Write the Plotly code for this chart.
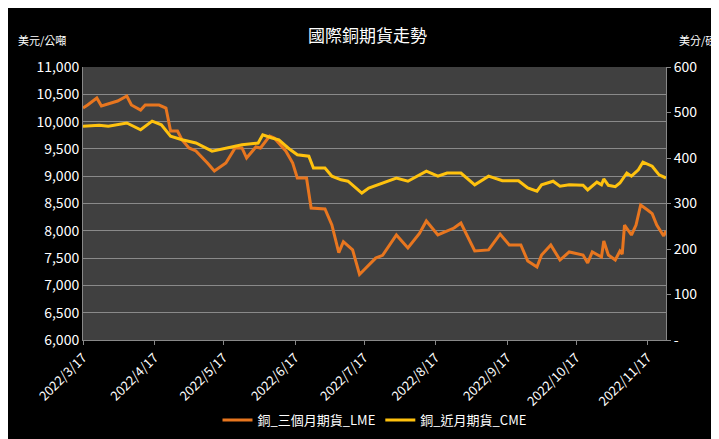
import plotly.graph_objects as go

lme_dates = ["2022-03-17","2022-03-19","2022-03-23","2022-03-25","2022-04-01","2022-04-05","2022-04-07","2022-04-11","2022-04-13","2022-04-19","2022-04-22","2022-04-23","2022-04-24","2022-04-27","2022-04-29","2022-05-02","2022-05-05","2022-05-10","2022-05-13","2022-05-18","2022-05-22","2022-05-25","2022-05-27","2022-05-31","2022-06-02","2022-06-06","2022-06-08","2022-06-13","2022-06-16","2022-06-18","2022-06-22","2022-06-24","2022-06-30","2022-07-03","2022-07-06","2022-07-08","2022-07-12","2022-07-15","2022-07-19","2022-07-22","2022-07-25","2022-07-31","2022-08-05","2022-08-10","2022-08-13","2022-08-18","2022-08-25","2022-08-28","2022-09-03","2022-09-09","2022-09-14","2022-09-18","2022-09-23","2022-09-26","2022-09-30","2022-10-02","2022-10-06","2022-10-10","2022-10-14","2022-10-20","2022-10-22","2022-10-24","2022-10-28","2022-10-29","2022-10-31","2022-11-03","2022-11-05","2022-11-06","2022-11-07","2022-11-10","2022-11-12","2022-11-14","2022-11-17","2022-11-19","2022-11-21","2022-11-24","2022-11-25"]
lme_values = [10249,10304,10432,10286,10377,10469,10304,10212,10304,10304,10249,10011,9828,9828,9663,9517,9462,9242,9095,9242,9517,9517,9333,9535,9517,9736,9700,9462,9242,8967,8967,8418,8400,8106,7600,7800,7650,7200,7374,7500,7550,7923,7685,7950,8180,7923,8051,8143,7630,7650,7940,7740,7740,7447,7337,7557,7740,7465,7612,7557,7410,7612,7520,7813,7557,7465,7630,7575,8106,7923,8106,8472,8380,8315,8106,7905,8000]

cme_dates = ["2022-03-17","2022-03-24","2022-03-28","2022-04-05","2022-04-11","2022-04-16","2022-04-20","2022-04-24","2022-04-29","2022-05-05","2022-05-12","2022-05-18","2022-05-25","2022-06-01","2022-06-03","2022-06-07","2022-06-10","2022-06-14","2022-06-18","2022-06-23","2022-06-25","2022-06-30","2022-07-03","2022-07-07","2022-07-10","2022-07-16","2022-07-19","2022-07-31","2022-08-05","2022-08-13","2022-08-18","2022-08-22","2022-08-28","2022-09-03","2022-09-09","2022-09-15","2022-09-22","2022-09-26","2022-09-30","2022-10-02","2022-10-07","2022-10-10","2022-10-14","2022-10-20","2022-10-22","2022-10-26","2022-10-28","2022-10-29","2022-10-31","2022-11-03","2022-11-05","2022-11-08","2022-11-10","2022-11-13","2022-11-15","2022-11-19","2022-11-22","2022-11-25"]
cme_values = [470,472,470,477,462,481,473,448,440,433,415,422,429,433,451,444,440,422,407,404,378,378,360,352,349,323,334,356,349,371,360,367,367,341,360,350,350,334,327,341,349,338,341,340,330,347,341,354,340,337,345,367,360,374,391,382,363,356]

tick_dates = ["2022-03-17","2022-04-17","2022-05-17","2022-06-17","2022-07-17","2022-08-17","2022-09-17","2022-10-17","2022-11-17"]
tick_labels = ["2022/3/17","2022/4/17","2022/5/17","2022/6/17","2022/7/17","2022/8/17","2022/9/17","2022/10/17","2022/11/17"]
left_ticks = [6000,6500,7000,7500,8000,8500,9000,9500,10000,10500,11000]
right_ticks = [0,100,200,300,400,500,600]
right_labels = ["-","100","200","300","400","500","600"]

font = "Noto Sans CJK TC"
fig = go.Figure()
fig.add_trace(go.Scatter(x=lme_dates, y=lme_values, name="銅_三個月期貨_LME", mode="lines",
                         line=dict(color="#E8761F", width=3)))
fig.add_trace(go.Scatter(x=cme_dates, y=cme_values, name="銅_近月期貨_CME", mode="lines", yaxis="y2",
                         line=dict(color="#FFC20E", width=3)))
fig.update_layout(
    width=719, height=439,
    paper_bgcolor="black", plot_bgcolor="#404040",
    margin=dict(l=75, r=61, t=59, b=107, autoexpand=False),
    font=dict(family=font, color="white", size=13),
    title=dict(text="國際銅期貨走勢", x=0.5, xanchor="center", y=0.936, yanchor="middle",
               font=dict(size=17, color="white")),
    xaxis=dict(range=["2022-03-17","2022-11-25"], tickvals=tick_dates, ticktext=tick_labels,
               tickangle=-45, showgrid=False, showline=True, linecolor="#888", ticks="outside",
               tickcolor="#888", ticklen=4, tickfont=dict(size=13, family=font), automargin=False),
    yaxis=dict(range=[6000,11000], tickvals=left_ticks, tickformat=",", showgrid=True,
               gridcolor="#8a8a8a", gridwidth=1, zeroline=False, showline=True, linecolor="#888",
               tickfont=dict(size=14), automargin=False),
    yaxis2=dict(range=[0,600], tickvals=right_ticks, ticktext=right_labels, overlaying="y", side="right",
                showgrid=False, zeroline=False, showline=True, linecolor="#888", ticks="outside",
                tickcolor="#888", ticklen=4, tickfont=dict(size=14), automargin=False),
    legend=dict(orientation="h", x=0.5, xanchor="center", y=-0.293, yanchor="middle",
                bgcolor="rgba(0,0,0,0)", font=dict(size=13)),
    annotations=[
        dict(text="美元/公噸", xref="paper", yref="paper", x=-0.115, y=1.099, xanchor="left",
             yanchor="middle", showarrow=False, font=dict(size=11)),
        dict(text="美分/磅", xref="paper", yref="paper", x=1.089, y=1.099, xanchor="right",
             yanchor="middle", showarrow=False, font=dict(size=11)),
    ],
)
fig.write_html("out.html")
